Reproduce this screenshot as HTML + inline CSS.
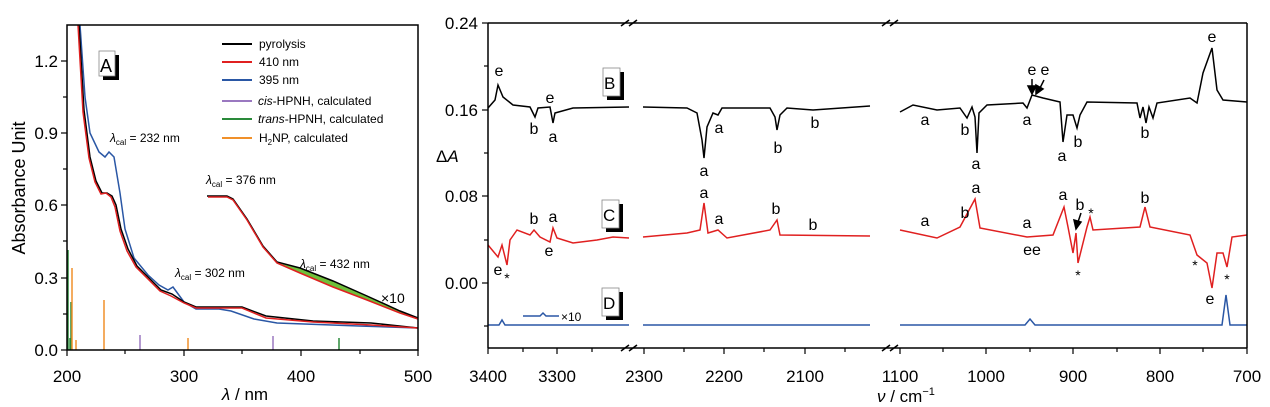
<!DOCTYPE html><html><head><style>body{margin:0;background:#fff}svg{display:block;font-family:"Liberation Sans",sans-serif}</style></head><body>
<svg width="1270" height="407" viewBox="0 0 1270 407" xmlns="http://www.w3.org/2000/svg">
<!-- Panel A -->
<g fill="none" stroke-width="1.5">
<polyline stroke="#2a57a5" points="80,25 85,97 90,133 99,152 105,157 109,152 114,157 120,193 125,229 134,258 148,275 159,285 168,290 173,287 184,302 196,309 219,309 231,311 254,319 277,323 359,326 418,328"/>
<polyline stroke="#000" points="79,25 84,110 90,157 96,181 102,193 107,193 112,196 116,205 121,229 128,249 137,266 149,278 161,290 172,294 184,302 196,307 219,307 242,307 266,316 313,321 371,323 418,328"/>
<polyline stroke="#e02020" points="78,25 83,112 89,158 95,182 101,194 106,193 111,197 115,207 120,231 127,251 136,267 148,279 160,291 171,296 184,303 196,308 219,308 242,308 266,318 313,322 371,325 418,328"/>
<path d="M277,263 L300,273 L333,287 L367,300 L400,313 L418,318 L400,311 L367,296 L333,281 L300,268 Z" fill="#6fbf3a" stroke="none"/>
<polyline stroke="#000" points="207,196 227,196 233,199 247,219 263,246 277,262 300,268 333,281 367,296 400,311 418,318"/>
<polyline stroke="#e02020" points="208,197 227,197 233,200 247,220 263,247 277,263 300,273 333,287 367,300 400,313 418,319"/>
</g>
<g stroke-width="1.5">
<line x1="68" y1="350" x2="68" y2="250" stroke="#2a8a3a"/>
<line x1="71" y1="350" x2="71" y2="302" stroke="#2a8a3a"/>
<line x1="70" y1="350" x2="70" y2="338" stroke="#2a8a3a"/>
<line x1="72" y1="350" x2="72" y2="268" stroke="#f0902a"/>
<line x1="76" y1="350" x2="76" y2="340" stroke="#f0902a"/>
<line x1="104" y1="350" x2="104" y2="300" stroke="#f0902a"/>
<line x1="188" y1="350" x2="188" y2="338" stroke="#f0902a"/>
<line x1="140" y1="350" x2="140" y2="335" stroke="#9a78c0"/>
<line x1="273" y1="350" x2="273" y2="336" stroke="#9a78c0"/>
<line x1="339" y1="350" x2="339" y2="338" stroke="#2a8a3a"/>
</g>
<rect x="67" y="25" width="351" height="325" fill="none" stroke="#000" stroke-width="1.5"/>
<g stroke="#000" stroke-width="1.2">
<line x1="67" y1="350" x2="67" y2="356"/><line x1="184" y1="350" x2="184" y2="356"/><line x1="301" y1="350" x2="301" y2="356"/><line x1="418" y1="350" x2="418" y2="356"/>
<line x1="125" y1="350" x2="125" y2="354"/><line x1="242" y1="350" x2="242" y2="354"/><line x1="360" y1="350" x2="360" y2="354"/>
<line x1="61" y1="350" x2="67" y2="350"/><line x1="61" y1="278" x2="67" y2="278"/><line x1="61" y1="205" x2="67" y2="205"/><line x1="61" y1="133" x2="67" y2="133"/><line x1="61" y1="61" x2="67" y2="61"/>
<line x1="63" y1="314" x2="67" y2="314"/><line x1="63" y1="241" x2="67" y2="241"/><line x1="63" y1="169" x2="67" y2="169"/><line x1="63" y1="97" x2="67" y2="97"/>
</g>
<g font-size="17" text-anchor="end"><text x="58" y="67">1.2</text><text x="58" y="139">0.9</text><text x="58" y="211">0.6</text><text x="58" y="284">0.3</text><text x="58" y="356">0.0</text></g>
<g font-size="17" text-anchor="middle"><text x="67" y="382">200</text><text x="184" y="382">300</text><text x="301" y="382">400</text><text x="418" y="382">500</text></g>
<text x="245" y="400" font-size="17" text-anchor="middle"><tspan font-style="italic">λ</tspan> / nm</text>
<text transform="translate(25,188) rotate(-90)" font-size="18" text-anchor="middle">Absorbance Unit</text>
<rect x="103" y="55" width="16" height="25" fill="#000"/><rect x="99" y="51" width="16" height="25" fill="#fff" stroke="#888" stroke-width="0.8"/><text x="100" y="72" font-size="18">A</text>
<g stroke-width="2"><line x1="222" y1="44" x2="252" y2="44" stroke="#000"/><line x1="222" y1="62" x2="252" y2="62" stroke="#e02020"/><line x1="222" y1="80" x2="252" y2="80" stroke="#2a57a5"/><line x1="222" y1="101" x2="252" y2="101" stroke="#9a78c0"/><line x1="222" y1="119" x2="252" y2="119" stroke="#2a8a3a"/><line x1="222" y1="138" x2="252" y2="138" stroke="#f0902a"/></g>
<g font-size="12"><text x="259" y="48">pyrolysis</text><text x="259" y="66">410 nm</text><text x="259" y="84">395 nm</text><text x="258" y="105"><tspan font-style="italic">cis</tspan>-HPNH, calculated</text><text x="258" y="123"><tspan font-style="italic">trans</tspan>-HPNH, calculated</text><text x="259" y="142">H<tspan font-size="8" dy="3">2</tspan><tspan dy="-3">NP, calculated</tspan></text>
<text x="110" y="142"><tspan font-style="italic">λ</tspan><tspan font-size="8" dy="3">cal</tspan><tspan dy="-3"> = 232 nm</tspan></text>
<text x="206" y="184"><tspan font-style="italic">λ</tspan><tspan font-size="8" dy="3">cal</tspan><tspan dy="-3"> = 376 nm</tspan></text>
<text x="175" y="277"><tspan font-style="italic">λ</tspan><tspan font-size="8" dy="3">cal</tspan><tspan dy="-3"> = 302 nm</tspan></text>
<text x="300" y="268"><tspan font-style="italic">λ</tspan><tspan font-size="8" dy="3">cal</tspan><tspan dy="-3"> = 432 nm</tspan></text>
<text x="381" y="303" font-size="14">×10</text></g>

<!-- Right panel -->
<g fill="none" stroke-width="1.5">
<polyline stroke="#000" points="488,108 495,100 498,85 503,97 513,105 530,107 535,117 538,108 550,107 553,123 555,113 573,108 629,107"/>
<polyline stroke="#000" points="643,107 687,108 697,113 702,140 704,158 707,127 713,113 718,115 722,108 770,108 775,117 777,130 780,115 787,108 813,110 870,106"/>
<polyline stroke="#000" points="900,112 913,105 937,110 960,108 967,118 972,107 975,117 977,153 979,113 987,105 1023,103 1027,108 1032,95 1043,98 1060,102 1063,142 1067,115 1073,115 1077,128 1080,115 1087,102 1137,103 1140,118 1143,107 1146,123 1149,107 1153,118 1157,103 1190,98 1197,103 1203,73 1212,48 1217,90 1223,100 1247,102"/>
<polyline stroke="#e02020" points="488,245 498,257 502,245 507,265 510,240 517,230 530,235 534,230 540,237 550,242 553,228 557,238 573,243 597,240 613,237 629,238"/>
<polyline stroke="#e02020" points="643,237 687,233 700,230 704,203 708,233 718,230 727,238 770,230 777,220 780,235 870,236"/>
<polyline stroke="#e02020" points="900,230 937,238 960,227 975,199 980,228 1027,237 1053,235 1064,207 1068,227 1073,253 1076,233 1078,263 1087,227 1090,217 1093,230 1140,227 1145,207 1150,227 1190,235 1197,255 1207,263 1212,288 1217,253 1223,253 1227,267 1232,237 1247,235"/>
<polyline stroke="#2a57a5" points="488,325 499,325 502,320 505,325 629,325"/>
<polyline stroke="#2a57a5" points="643,325 870,325"/>
<polyline stroke="#2a57a5" points="900,325 1025,325 1030,319 1035,325 1222,325 1226,295 1230,325 1247,325"/>
<polyline stroke="#2a57a5" points="523,316 540,316 543,313 546,316 559,316"/>
</g>
<g stroke="#000" stroke-width="1.5" fill="none">
<line x1="488" y1="23" x2="1247" y2="23"/><line x1="488" y1="348" x2="1247" y2="348"/>
<line x1="488" y1="23" x2="488" y2="348"/><line x1="1247" y1="23" x2="1247" y2="348"/>
<line x1="621" y1="26" x2="629" y2="20"/><line x1="629" y1="26" x2="637" y2="20"/>
<line x1="621" y1="351" x2="629" y2="345"/><line x1="629" y1="351" x2="637" y2="345"/>
<line x1="882" y1="26" x2="890" y2="20"/><line x1="890" y1="26" x2="898" y2="20"/>
<line x1="882" y1="351" x2="890" y2="345"/><line x1="890" y1="351" x2="898" y2="345"/>
</g>
<g stroke="#000" stroke-width="1.2">
<line x1="482" y1="23" x2="488" y2="23"/><line x1="482" y1="110" x2="488" y2="110"/><line x1="482" y1="196" x2="488" y2="196"/><line x1="482" y1="283" x2="488" y2="283"/>
<line x1="484" y1="66" x2="488" y2="66"/><line x1="484" y1="153" x2="488" y2="153"/><line x1="484" y1="240" x2="488" y2="240"/><line x1="484" y1="326" x2="488" y2="326"/>
<line x1="488" y1="348" x2="488" y2="354"/><line x1="557" y1="348" x2="557" y2="354"/><line x1="644" y1="348" x2="644" y2="354"/><line x1="724" y1="348" x2="724" y2="354"/><line x1="805" y1="348" x2="805" y2="354"/>
<line x1="900" y1="348" x2="900" y2="354"/><line x1="986" y1="348" x2="986" y2="354"/><line x1="1073" y1="348" x2="1073" y2="354"/><line x1="1160" y1="348" x2="1160" y2="354"/><line x1="1247" y1="348" x2="1247" y2="354"/>
<line x1="523" y1="348" x2="523" y2="352"/><line x1="592" y1="348" x2="592" y2="352"/><line x1="684" y1="348" x2="684" y2="352"/><line x1="764" y1="348" x2="764" y2="352"/><line x1="845" y1="348" x2="845" y2="352"/>
<line x1="943" y1="348" x2="943" y2="352"/><line x1="1030" y1="348" x2="1030" y2="352"/><line x1="1117" y1="348" x2="1117" y2="352"/><line x1="1203" y1="348" x2="1203" y2="352"/>
</g>
<g font-size="17" text-anchor="end"><text x="478" y="29">0.24</text><text x="478" y="116">0.16</text><text x="478" y="202">0.08</text><text x="478" y="289">0.00</text></g>
<g font-size="17" text-anchor="middle"><text x="488" y="382">3400</text><text x="557" y="382">3300</text><text x="644" y="382">2300</text><text x="724" y="382">2200</text><text x="805" y="382">2100</text><text x="900" y="382">1100</text><text x="986" y="382">1000</text><text x="1073" y="382">900</text><text x="1160" y="382">800</text><text x="1247" y="382">700</text></g>
<text x="877" y="402" font-size="17"><tspan font-style="italic">ν</tspan> / cm<tspan font-size="11" dy="-7">−1</tspan></text>
<text x="436" y="162" font-size="17">Δ<tspan font-style="italic">A</tspan></text>
<g font-size="17">
<rect x="607" y="72" width="17" height="28" fill="#000"/><rect x="603" y="68" width="17" height="28" fill="#fff" stroke="#888" stroke-width="0.8"/><text x="604" y="89">B</text>
<rect x="606" y="204" width="17" height="28" fill="#000"/><rect x="602" y="200" width="17" height="28" fill="#fff" stroke="#888" stroke-width="0.8"/><text x="603" y="221">C</text>
<rect x="606" y="292" width="17" height="28" fill="#000"/><rect x="602" y="288" width="17" height="28" fill="#fff" stroke="#888" stroke-width="0.8"/><text x="603" y="309">D</text>
</g>
<text x="561" y="321" font-size="12">×10</text>
<g font-size="16" text-anchor="middle">
<text x="499" y="76">e</text><text x="534" y="134">b</text><text x="550" y="103">e</text><text x="553" y="142">a</text>
<text x="704" y="176">a</text><text x="719" y="133">a</text><text x="778" y="153">b</text><text x="815" y="128">b</text>
<text x="925" y="125">a</text><text x="965" y="135">b</text><text x="976" y="169">a</text><text x="1027" y="125">a</text><text x="1062" y="161">a</text><text x="1078" y="147">b</text><text x="1145" y="138">b</text><text x="1212" y="42">e</text>
<text x="1032" y="75">e</text><text x="1045" y="75">e</text>
<text x="498" y="275">e</text><text x="534" y="224">b</text><text x="553" y="222">a</text><text x="549" y="256">e</text>
<text x="704" y="198">a</text><text x="719" y="224">a</text><text x="776" y="214">b</text><text x="813" y="230">b</text>
<text x="925" y="226">a</text><text x="965" y="218">b</text><text x="976" y="193">a</text><text x="1027" y="228">a</text><text x="1032" y="255">ee</text><text x="1063" y="200">a</text><text x="1080" y="210">b</text><text x="1145" y="203">b</text><text x="1210" y="304">e</text>
</g>
<g font-size="14" text-anchor="middle"><text x="507" y="283">*</text><text x="1078" y="280">*</text><text x="1091" y="218">*</text><text x="1195" y="270">*</text><text x="1227" y="284">*</text></g>
<g stroke="#000" stroke-width="1.5" fill="#000">
<line x1="1032" y1="79" x2="1032" y2="88"/><polygon points="1028,86 1036,86 1032,94"/>
<line x1="1044" y1="80" x2="1040" y2="88"/><polygon points="1036,85 1043,89 1036,94"/>
<line x1="1081" y1="213" x2="1078" y2="222"/><polygon points="1074,220 1081,222 1076,229"/>
</g>
</svg></body></html>
